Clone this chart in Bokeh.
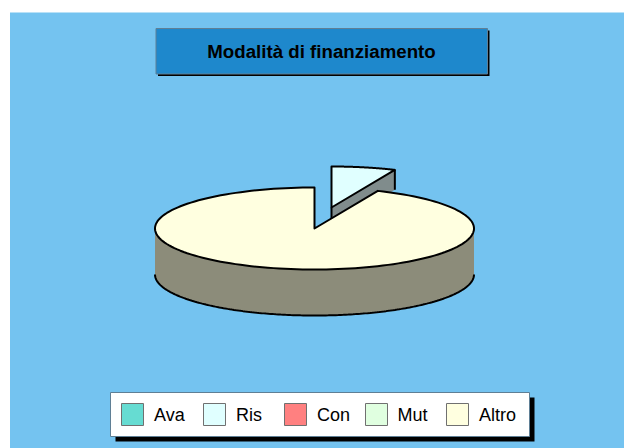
import numpy as np
from bokeh.embed import file_html
from bokeh.models import Range1d
from bokeh.plotting import figure
from bokeh.resources import INLINE

TITLE = "Modalità di finanziamento"
categories = ["Ava", "Ris", "Con", "Mut", "Altro"]
values = [0, 6.5, 0, 0, 93.5]
top_colors = ["#66dcd2", "#e0ffff", "#ff8080", "#e0ffe0", "#ffffe0"]
side_colors = ["#3a7a75", "#808c8c", "#8c4848", "#7d8c7d", "#8c8c7a"]
legend_x = [121, 203, 284, 365, 446]
label_x = [153.5, 235.5, 316.5, 397, 478.5]

W, H = 624, 448
BG = "#74c3f0"
CX, CY, RX, RY, DEPTH = 314, 228, 159.5, 41, 46
EXPLODE = {"Ris": (17, -21)}
EXPLODE_DEPTH = 20
START = 90.0

p = figure(width=W, height=H, output_backend="svg", toolbar_location=None,
           x_range=Range1d(0, W), y_range=Range1d(H, 0), min_border=0)
p.axis.visible = False
p.grid.visible = False
p.outline_line_color = None
p.background_fill_color = "white"
p.border_fill_color = "white"

p.quad(left=[9.5], right=[624], top=[12], bottom=[448], fill_color=BG, line_color=None)


def box(x0, y0, x1, y1, fill, shadow=5):
    p.quad(left=[x0 + shadow], right=[x1 + shadow], top=[y0 + shadow], bottom=[y1 + shadow],
           fill_color="black", line_color=None)
    p.quad(left=[x0], right=[x1], top=[y0], bottom=[y1], fill_color=fill,
           line_color="#5f7f95", line_width=1)


box(155.5, 28, 487, 73.5, "#1e88cc", shadow=2)
p.text([321], [50.5], text=[TITLE], text_align="center", text_baseline="middle",
       text_font_size="18.7px", text_font_style="bold", text_color="black",
       text_font={"value": "Liberation Sans"})


def arc(a0, a1, ox=0, oy=0, n=160):
    t = np.radians(np.linspace(a0, a1, n))
    return CX + ox + RX * np.cos(t), CY + oy - RY * np.sin(t)


# clockwise angular spans from the data
total = sum(values)
spans = []
ang = START
for name, val, top, side in zip(categories, values, top_colors, side_colors):
    a1 = ang - val / total * 360
    if val > 0:
        spans.append((name, ang, a1, top, side))
    ang = a1

# exploded slices first (they sit behind)
for name, a0, a1, top, side in sorted(spans, key=lambda s: s[0] not in EXPLODE):
    ox, oy = EXPLODE.get(name, (0, 0))
    d = EXPLODE_DEPTH if name in EXPLODE else DEPTH
    ax, ay = CX + ox, CY + oy
    xs, ys = arc(a0, a1, ox, oy)
    if name in EXPLODE:
        # the cut wall at the end of the slice
        ex, ey = xs[-1], ys[-1]
        p.patch([ax, ex, ex, ax], [ay, ey, ey + d, ay + d], fill_color=side, line_color=None)
        p.line([ax, ax], [ay, ay + d], line_color="black", line_width=2)
        p.line([ex, ex], [ey, ey + d], line_color="black", line_width=2)
    else:
        # outer rim along the lower half of the ellipse
        lo = np.radians(np.linspace(180, 360, 200))
        rx = CX + RX * np.cos(lo)
        ry = CY - RY * np.sin(lo)
        p.patch(np.r_[rx, rx[::-1]], np.r_[ry, ry[::-1] + d], fill_color=side, line_color=None)
        p.line(rx, ry + d, line_color="black", line_width=2)
    p.patch(np.r_[ax, xs], np.r_[ay, ys], fill_color=top, line_color="black", line_width=2,
            line_join="round")

# legend
box(110, 392, 529, 436, "white", shadow=5)
for name, x, lx, col in zip(categories, legend_x, label_x, top_colors):
    p.quad(left=[x], right=[x + 22], top=[403], bottom=[425], fill_color=col,
           line_color="#707070", line_width=1)
    p.text([lx], [414], text=[name], text_align="left", text_baseline="middle",
           text_font_size="18px", text_color="black",
           text_font={"value": "Liberation Sans"})

open("out.html", "w").write(file_html(p, INLINE))
